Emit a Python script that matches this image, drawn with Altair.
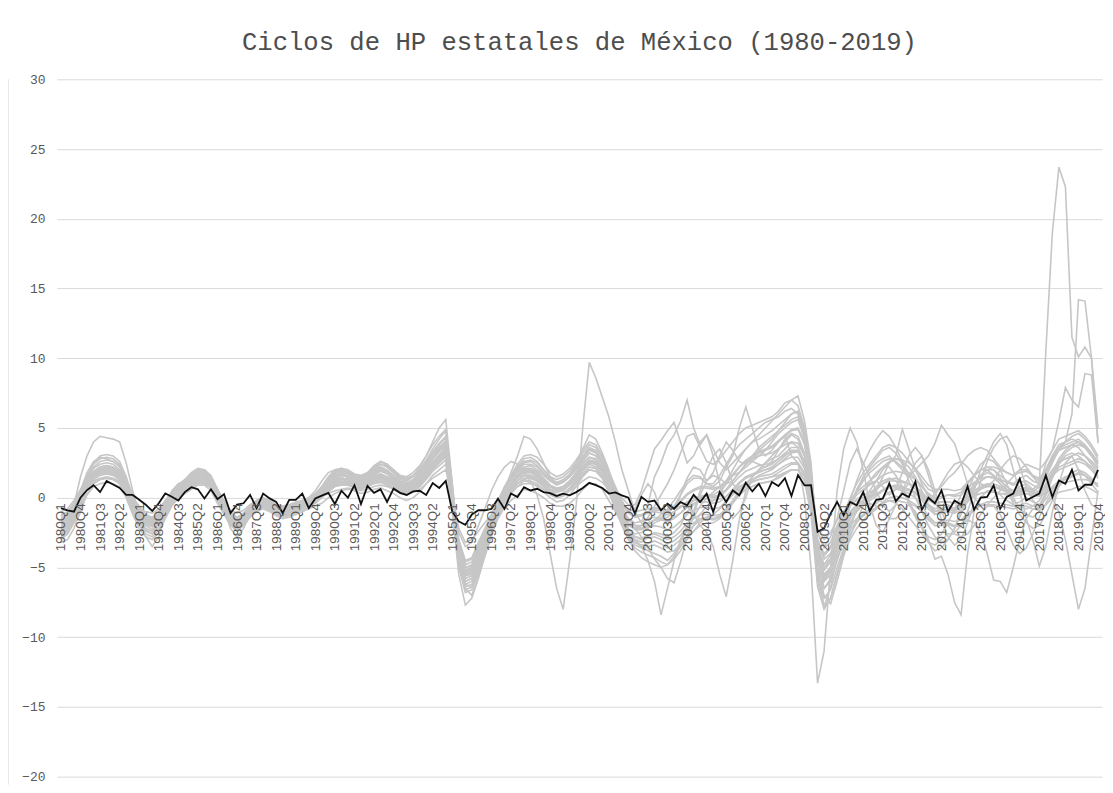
import altair as alt
import pandas as pd

quarters = [f"{y}Q{q}" for y in range(1980, 2020) for q in range(1, 5)]
tick_labels = quarters[::3]
y_ticks = [-20, -15, -10, -5, 0, 5, 10, 15, 20, 25, 30]

nacional = [
    -0.75, -0.9, -1.0, 0.0, 0.55, 0.9, 0.4, 1.2, 0.95, 0.7, 0.2, 0.2,
    -0.15, -0.5, -0.95, -0.4, 0.3, 0.07, -0.2, 0.4, 0.75, 0.6, -0.05, 0.6,
    -0.1, 0.25, -1.1, -0.5, -0.4, 0.2, -0.75, 0.3, -0.05, -0.3, -1.1, -0.15,
    -0.15, 0.3, -0.75, -0.05, 0.15, 0.35, -0.45, 0.5, 0.0, 0.9, -0.45, 0.85,
    0.35, 0.6, -0.3, 0.65, 0.35, 0.2, 0.45, 0.5, 0.2, 1.05, 0.7, 1.2,
    -1.0, -1.7, -1.95, -1.2, -0.9, -0.9, -0.8, -0.07, -0.8, 0.3, 0.05, 0.76,
    0.52, 0.64, 0.4, 0.33, 0.12, 0.29, 0.17, 0.4, 0.7, 1.07, 0.9, 0.7,
    0.3, 0.38, 0.17, 0.0, -1.14, 0.05, -0.3, -0.2, -0.9, -0.43, -0.79, -0.31,
    -0.55, 0.21, -0.31, 0.29, -1.02, 0.4, -0.31, 0.52, 0.17, 1.07, 0.45, 1.0,
    0.12, 1.12, 0.83, 1.4, 0.12, 1.62, 0.88, 0.9, -2.45, -2.2, -1.14, -0.3,
    -1.26, -0.3, -0.55, 0.4, -0.95, -0.15, -0.07, 1.02, -0.25, 0.29, 0.05, 1.15,
    -0.85, 0.0, -0.4, 0.52, -1.0, -0.2, -0.5, 0.8, -0.85, 0.0, 0.05, 0.88,
    -0.79, 0.05, 0.29, 1.36, -0.19, 0.05, 0.29, 1.6, 0.05, 1.24, 1.0, 2.0,
    0.52, 0.93, 0.93, 2.0,
]

est01 = [
    -1.8, -1.5, -0.8, 0.3, 1.2, 1.8, 2.1, 2.2, 2.1, 1.8, 1.0, -0.2, -1.0, -1.5, -1.6, -1.2,
    -0.4, 0.3, 0.7, 1.0, 1.4, 1.7, 1.7, 1.3, 0.5, -0.3, -1.1, -1.5, -1.2, -0.7, -0.3, -0.1,
    -0.3, -0.6, -0.8, -0.7, -0.5, -0.3, -0.1, 0.1, 0.4, 0.8, 1.1, 1.2, 1.1, 0.9, 0.8, 1.0,
    1.3, 1.5, 1.3, 1.0, 0.7, 0.6, 0.8, 1.2, 1.8, 2.5, 3.0, 3.4, 0.2, -3.2, -4.8, -4.6,
    -3.6, -2.6, -1.6, -0.6, 0.2, 0.9, 1.4, 1.8, 1.8, 1.6, 1.2, 0.8, 0.6, 0.7, 1.0, 1.5,
    2.1, 2.6, 2.5, 2.0, 1.2, 0.3, -0.5, -1.1, -1.4, -1.3, -1.1, -1.0, -1.1, -1.2, -1.0, -0.7,
    -0.3, 0.0, 0.1, 0.1, 0.0, 0.1, 0.5, 1.0, 1.5, 1.9, 2.1, 2.3, 2.4, 2.5, 2.8, 3.1,
    3.3, 3.3, 2.5, 0.6, -3.2, -4.2, -3.6, -2.3, -1.3, -0.6, -0.1, 0.2, 0.4, 0.6, 1.0, 1.2,
    1.2, 1.1, 1.0, 0.8, 0.4, -0.1, -0.4, -0.3, -0.3, -0.4, -0.3, 0.2, 0.5, 0.7, 0.8, 0.8,
    0.7, 0.6, 0.5, 0.6, 0.7, 0.6, 1.0, 10.5, 19.0, 23.7, 22.3, 11.5, 10.1, 10.8, 10.0, 3.9,
]
est02 = [
    -2.0, -1.9, -1.4, -0.4, 0.8, 1.6, 2.0, 2.1, 2.0, 1.7, 0.8, -0.4, -1.3, -1.8, -1.9, -1.4,
    -0.6, 0.1, 0.5, 0.8, 1.2, 1.5, 1.5, 1.1, 0.3, -0.5, -1.3, -1.7, -1.4, -0.9, -0.5, -0.3,
    -0.5, -0.8, -1.0, -0.9, -0.7, -0.5, -0.3, -0.1, 0.2, 0.6, 1.0, 1.1, 1.0, 0.8, 0.7, 0.9,
    1.1, 1.2, 1.0, 0.7, 0.4, 0.3, 0.5, 0.9, 1.4, 2.0, 2.5, 2.9, -0.2, -3.6, -5.2, -5.0,
    -4.0, -3.0, -2.0, -1.0, -0.2, 0.5, 1.0, 1.4, 1.4, 1.2, 0.8, 0.4, 0.2, 0.3, 0.6, 1.1,
    1.7, 2.2, 2.1, 1.6, 0.8, -0.1, -0.9, -1.5, -1.8, -1.7, -1.5, -1.4, -1.5, -1.6, -1.4, -1.1,
    -0.7, -0.4, -0.3, -0.3, -0.4, -0.3, 0.1, 0.6, 1.1, 1.5, 1.7, 1.9, 2.0, 2.1, 2.4, 2.7,
    2.9, 2.9, 2.1, 0.2, -3.8, -4.8, -4.1, -2.8, -1.8, -1.0, -0.5, -0.2, 0.0, 0.2, 0.6, 0.8,
    0.8, 0.7, 0.6, 0.4, 0.0, -0.5, -0.8, -0.7, -0.7, -0.8, -0.7, -0.2, 0.1, 0.3, 0.4, 0.4,
    0.3, 0.2, 0.1, 0.2, 0.3, 0.1, 0.5, 2.0, 3.0, 3.5, 4.0, 6.0, 14.2, 14.1, 10.0, 5.0,
]
est03 = [
    -2.8, -2.4, -1.5, 0.0, 1.5, 2.5, 3.0, 3.1, 3.0, 2.6, 1.5, 0.0, -1.2, -2.0, -2.3, -1.8,
    -0.8, 0.2, 0.9, 1.3, 1.7, 2.0, 1.9, 1.4, 0.4, -0.6, -1.6, -2.0, -1.6, -1.0, -0.5, -0.2,
    -0.4, -0.8, -1.0, -0.9, -0.6, -0.3, 0.0, 0.5, 1.2, 1.8, 2.0, 1.8, 1.4, 1.0, 1.0, 1.4,
    2.0, 2.2, 1.8, 1.2, 0.8, 0.6, 0.8, 1.2, 1.8, 2.4, 2.8, 3.0, 0.0, -2.5, -3.5, -3.2,
    -2.0, -0.8, 0.5, 1.5, 2.2, 2.6, 2.4, 1.8, 1.2, 0.2, -1.5, -4.0, -6.5, -8.0, -4.5, -0.5,
    5.0, 9.7, 8.6, 7.2, 5.8, 4.0, 2.0, 0.5, -1.0, -1.8, -0.5, 1.5, 2.5, 3.8, 4.5, 5.5,
    7.0, 5.0, 3.8, 4.5, 3.0, 1.0, -0.5, -1.5, -1.0, 0.0, 1.5, 2.0, 2.5, 2.8, 3.0, 3.5,
    4.0, 3.6, 2.2, 0.5, -2.5, -3.5, -2.8, -1.5, 0.5, 2.5, 3.5, 2.5, 1.5, 0.5, -0.5, -1.0,
    -0.5, 0.5, 1.5, 2.5, 3.0, 2.0, 0.5, -1.0, -2.0, -2.5, -2.0, -1.0, 0.5, 2.0, 3.0, 4.0,
    4.6, 3.8, 2.0, 0.5, -1.5, -3.0, -4.9, -3.5, -1.0, 1.0, 2.5, 3.0, 2.0, 0.5, -0.5, -0.8,
]
est04 = [
    -1.2, -1.0, -0.4, 0.5, 1.3, 1.9, 2.2, 2.3, 2.2, 1.9, 1.1, 0.0, -0.8, -1.3, -1.5, -1.1,
    -0.3, 0.4, 0.9, 1.2, 1.6, 1.9, 1.9, 1.5, 0.6, -0.4, -1.4, -1.8, -1.5, -0.9, -0.4, -0.2,
    -0.4, -0.7, -0.9, -0.8, -0.6, -0.4, -0.2, 0.1, 0.5, 1.0, 1.5, 1.7, 1.6, 1.3, 1.2, 1.4,
    1.8, 2.1, 1.9, 1.5, 1.1, 1.0, 1.2, 1.7, 2.4, 3.1, 3.6, 4.1, 0.5, -3.5, -5.2, -5.0,
    -3.8, -2.6, -1.4, -0.3, 0.6, 1.4, 2.0, 2.5, 2.6, 2.3, 1.8, 1.3, 1.0, 1.2, 1.6, 2.2,
    2.9, 3.5, 3.3, 2.6, 1.6, 0.5, -0.6, -1.5, -2.0, -2.2, -2.0, -1.6, -1.2, -0.8, -0.2, 0.5,
    1.2, 1.6, 1.5, 1.0, 0.8, 1.2, 2.2, 3.0, 5.0, 6.5, 5.0, 3.5, 3.0, 3.4, 4.0, 4.5,
    3.0, 2.5, 0.0, -5.0, -13.3, -11.0, -5.0, 0.5, 3.5, 5.0, 4.0, 2.0, -0.5, -2.0, -2.5, -1.5,
    -0.5, 0.5, 1.0, 0.8, 0.2, -0.5, -1.0, -0.8, -0.6, -0.8, -0.5, 0.2, 0.8, 1.2, 1.5, 1.4,
    1.0, 0.6, 0.3, 0.6, 0.8, 0.5, 0.2, 1.0, 1.8, 2.5, 2.8, 3.0, 3.2, 3.0, 2.6, 2.0,
]
est05 = [
    -2.4, -2.2, -1.4, -0.2, 1.0, 1.7, 2.0, 2.0, 1.9, 1.5, 0.6, -0.6, -1.6, -2.2, -2.4, -1.9,
    -1.0, -0.2, 0.3, 0.6, 1.0, 1.3, 1.3, 0.9, 0.0, -0.9, -1.8, -2.2, -1.8, -1.2, -0.7, -0.5,
    -0.7, -1.0, -1.2, -1.1, -0.9, -0.7, -0.5, -0.2, 0.2, 0.7, 1.2, 1.4, 1.3, 1.1, 1.0, 1.2,
    1.5, 1.7, 1.4, 1.0, 0.6, 0.5, 0.7, 1.1, 1.7, 2.3, 2.8, 3.2, -0.5, -4.5, -6.2, -6.0,
    -4.8, -3.6, -2.4, -1.2, -0.2, 0.5, 1.0, 1.3, 1.2, 1.0, 0.6, 0.2, 0.0, 0.2, 0.6, 1.2,
    1.9, 2.4, 2.2, 1.6, 0.6, -0.5, -1.5, -2.3, -2.6, -2.5, -2.2, -1.8, -1.6, -1.4, -1.0, -0.6,
    -0.6, -1.2, -2.0, -2.5, -3.5, -5.5, -7.1, -4.5, -1.6, 0.5, 1.5, 2.0, 2.2, 2.4, 2.8, 3.2,
    3.6, 3.6, 2.6, 0.2, -4.5, -5.8, -5.0, -3.5, -2.2, -1.4, -0.8, -0.4, -0.2, 0.1, 0.5, 0.8,
    0.9, 0.8, 0.6, 0.3, -0.2, -0.8, -1.2, -1.1, -1.0, -1.1, -0.9, -0.3, 0.2, 0.6, 0.8, 0.8,
    0.6, 0.4, 0.2, 0.4, 0.5, 0.4, 0.8, 2.5, 3.4, 5.5, 7.9, 7.0, 6.5, 8.9, 8.8, 4.0,
]
est06 = [
    -3.2, -3.0, -2.2, -1.0, 0.3, 1.0, 1.3, 1.4, 1.3, 1.0, 0.2, -1.0, -2.0, -2.6, -2.8, -2.3,
    -1.3, -0.5, 0.0, 0.4, 0.8, 1.1, 1.1, 0.7, -0.2, -1.0, -1.9, -2.3, -1.9, -1.3, -0.9, -0.7,
    -0.9, -1.2, -1.4, -1.3, -1.1, -0.9, -0.7, -0.4, 0.0, 0.4, 0.8, 1.0, 1.0, 0.8, 0.7, 0.9,
    1.2, 1.4, 1.2, 0.9, 0.5, 0.4, 0.6, 1.0, 1.6, 2.2, 2.7, 3.1, -1.0, -5.5, -7.7, -7.2,
    -5.8, -4.2, -2.8, -1.4, -0.4, 0.3, 0.8, 1.2, 1.1, 0.8, 0.4, 0.0, -0.3, -0.2, 0.2, 0.8,
    1.5, 2.0, 1.9, 1.4, 0.4, -0.7, -1.8, -2.7, -3.2, -3.4, -3.3, -3.1, -3.3, -3.6, -3.4, -3.0,
    -2.4, -2.0, -1.6, -1.5, -1.6, -1.4, -0.9, -0.3, 0.3, 0.8, 1.1, 1.3, 1.4, 1.5, 1.8, 2.1,
    2.4, 2.4, 1.6, -0.6, -5.2, -6.5, -5.8, -4.4, -3.2, -2.3, -1.7, -1.3, -1.0, -0.7, -0.3, 0.0,
    0.1, 0.0, -0.2, -0.5, -1.0, -1.6, -2.0, -2.0, -1.9, -2.1, -2.0, -1.6, -1.8, -2.5, -4.0, -5.9,
    -6.0, -6.8, -5.0, -3.0, -1.5, -0.8, -0.8, -0.5, 0.0, -1.0, -3.0, -5.5, -8.0, -6.5, -3.0, 0.5,
]
est07 = [
    -2.5, -2.0, -0.5, 1.5, 3.0, 4.0, 4.4, 4.3, 4.2, 4.0, 2.5, 0.5, -1.5, -2.8, -3.5, -2.8,
    -1.0, 0.5, 1.0, 1.2, 1.6, 2.0, 2.0, 1.6, 0.6, -0.8, -2.2, -2.8, -2.2, -1.2, -0.6, -0.3,
    -0.6, -1.0, -1.2, -1.0, -0.8, -0.5, -0.3, 0.0, 0.6, 1.2, 1.8, 2.0, 1.8, 1.5, 1.4, 1.6,
    2.0, 2.4, 2.2, 1.8, 1.3, 1.2, 1.5, 2.2, 3.0, 4.0, 5.0, 5.6, 1.0, -4.0, -6.5, -7.0,
    -5.5, -4.0, -2.5, -1.0, 0.5, 1.8, 3.0, 4.4, 4.2, 3.5, 2.5, 1.5, 1.0, 1.2, 1.6, 2.5,
    3.5, 4.5, 4.2, 3.2, 2.0, 0.5, -1.0, -2.5, -3.0, -3.2, -2.8, -2.5, -2.6, -2.8, -2.5, -2.0,
    -1.0, -0.5, 0.0, 0.2, 0.2, 0.5, 1.2, 2.0, 2.8, 3.5, 4.0, 4.2, 4.5, 4.8, 5.2, 5.6,
    6.0, 6.2, 5.0, 2.0, -4.0, -6.5, -6.0, -4.5, -3.0, -1.8, -1.0, -0.3, 0.5, 1.2, 2.0, 2.5,
    2.8, 2.6, 2.2, 1.5, 0.5, -0.5, -1.2, -1.0, -0.8, -1.0, -0.6, 0.2, 1.0, 1.5, 1.8, 1.6,
    1.2, 0.8, 0.5, 0.8, 1.0, 0.6, 0.4, 1.5, 2.5, 3.5, 3.8, 4.0, 4.2, 3.8, 3.2, 2.5,
]
est08 = [
    -1.5, -1.2, -0.6, 0.2, 0.8, 1.2, 1.4, 1.5, 1.4, 1.2, 0.6, -0.2, -0.8, -1.0, -1.1, -0.8,
    -0.2, 0.2, 0.4, 0.6, 0.9, 1.1, 1.1, 0.8, 0.2, -0.3, -0.9, -1.1, -0.9, -0.5, -0.2, -0.1,
    -0.3, -0.5, -0.6, -0.5, -0.4, -0.3, -0.2, -0.1, 0.1, 0.3, 0.5, 0.6, 0.7, 0.6, 0.5, 0.6,
    0.8, 0.9, 0.8, 0.6, 0.4, 0.3, 0.4, 0.6, 1.0, 1.4, 1.7, 2.0, 0.2, -2.2, -3.2, -3.0,
    -2.4, -1.8, -1.2, -0.5, 0.0, 0.4, 0.8, 1.0, 1.0, 0.9, 0.6, 0.4, 0.2, 0.3, 0.5, 0.8,
    1.2, 1.5, 1.4, 1.1, 0.6, 0.1, -0.4, -0.8, -1.0, -0.9, -0.8, -0.7, -0.8, -0.9, -0.8, -0.6,
    -0.3, -0.2, -0.1, -0.1, -0.2, -0.1, 0.1, 0.4, 0.8, 1.0, 1.2, 1.3, 1.4, 1.5, 1.6, 1.8,
    2.0, 2.0, 1.5, 0.3, -2.2, -3.0, -2.5, -1.6, -1.0, -0.5, -0.2, 0.0, 0.1, 0.3, 0.5, 0.7,
    0.7, 0.6, 0.5, 0.4, 0.1, -0.2, -0.4, -0.3, -0.3, -0.4, -0.3, 0.0, 0.2, 0.3, 0.4, 0.4,
    0.3, 0.3, 0.2, 0.3, 0.3, 0.2, 0.1, 0.4, 0.7, 1.0, 1.1, 1.2, 1.3, 1.3, 1.2, 1.0,
]
est09 = [
    -3.0, -2.6, -1.8, -0.8, 0.2, 0.8, 1.0, 1.1, 1.0, 0.8, 0.0, -1.2, -2.2, -2.8, -3.0, -2.5,
    -1.5, -0.6, 0.0, 0.3, 0.6, 0.9, 0.9, 0.5, -0.4, -1.2, -2.0, -2.4, -2.0, -1.4, -1.0, -0.8,
    -1.0, -1.3, -1.5, -1.4, -1.2, -1.0, -0.8, -0.6, -0.4, 0.0, 0.3, 0.5, 0.6, 0.5, 0.3, 0.4,
    0.6, 0.7, 0.5, 0.3, 0.0, -0.2, 0.0, 0.4, 1.0, 1.6, 2.0, 2.4, -1.0, -4.5, -6.0, -5.8,
    -4.5, -3.5, -2.5, -1.5, -0.7, -0.2, 0.2, 0.6, 0.5, 0.3, 0.0, -0.4, -0.6, -0.6, -0.4, 0.0,
    0.6, 1.0, 1.0, 0.6, -0.2, -1.0, -1.8, -2.5, -2.8, -2.9, -2.7, -2.6, -2.8, -3.0, -2.8, -2.4,
    -1.8, -1.5, -1.2, -1.2, -1.3, -1.2, -0.8, -0.3, 0.2, 0.6, 0.8, 1.0, 1.1, 1.2, 1.5, 1.8,
    2.0, 2.0, 1.2, -0.8, -5.0, -6.0, -5.2, -4.0, -2.8, -2.0, -1.5, -1.2, -1.0, -0.8, -0.4, -0.2,
    -0.2, -0.3, -0.4, -0.6, -1.0, -1.5, -1.8, -1.7, -1.6, -1.7, -1.6, -1.1, -0.8, -0.6, -0.5, -0.5,
    -0.6, -0.7, -0.8, -0.7, -0.6, -0.8, -0.9, -0.5, 0.0, 0.4, 0.5, 0.6, 0.8, 0.8, 0.6, 0.3,
]
est10 = [
    -2.2, -2.0, -1.0, 0.5, 1.8, 2.6, 2.9, 2.8, 2.6, 2.2, 1.2, 0.0, -1.0, -1.6, -1.8, -1.4,
    -0.5, 0.2, 0.8, 1.2, 1.6, 1.9, 1.8, 1.4, 0.6, -0.2, -1.0, -1.4, -1.1, -0.6, -0.2, 0.0,
    -0.2, -0.5, -0.6, -0.5, -0.3, -0.2, 0.0, 0.2, 0.6, 1.0, 1.3, 1.4, 1.3, 1.1, 1.0, 1.2,
    1.5, 1.7, 1.5, 1.2, 0.9, 0.8, 1.0, 1.4, 2.0, 2.8, 3.4, 3.8, 0.4, -3.0, -4.5, -4.3,
    -3.2, -2.2, -1.2, -0.2, 0.6, 1.2, 1.8, 2.2, 2.3, 2.0, 1.6, 1.2, 1.0, 1.1, 1.5, 2.0,
    2.6, 3.2, 3.0, 2.4, 1.5, 0.6, -0.3, -1.0, -1.3, -1.2, -1.0, -0.8, -0.8, -0.9, -0.6, -0.2,
    0.3, 0.6, 0.8, 0.8, 0.7, 0.8, 1.2, 1.7, 2.2, 2.6, 2.8, 3.0, 3.1, 3.2, 3.5, 3.8,
    4.0, 3.9, 3.0, 1.0, -3.0, -4.0, -3.5, -2.2, -1.2, -0.4, 0.2, 0.6, 0.9, 1.2, 1.6, 1.8,
    1.9, 1.8, 1.6, 1.3, 0.8, 0.3, 0.0, 0.1, 0.2, 0.1, 0.2, 0.7, 1.1, 1.4, 1.5, 1.5,
    1.3, 1.1, 0.9, 1.1, 1.2, 0.9, 0.7, 1.3, 2.0, 2.6, 2.8, 3.0, 3.2, 3.0, 2.6, 2.1,
]
est11 = [
    -1.0, -0.8, -0.2, 0.6, 1.4, 1.8, 2.0, 2.0, 1.8, 1.5, 0.8, 0.0, -0.6, -1.2, -1.4, -1.0,
    -0.2, 0.4, 0.8, 1.0, 1.3, 1.5, 1.4, 1.0, 0.3, -0.5, -1.6, -2.0, -1.7, -1.2, -0.7, -0.4,
    -0.6, -0.9, -1.0, -0.9, -0.7, -0.4, -0.2, 0.2, 0.8, 1.5, 2.0, 2.1, 1.8, 1.4, 1.2, 1.5,
    2.0, 2.6, 2.4, 2.0, 1.5, 1.3, 1.6, 2.0, 2.6, 3.2, 3.6, 4.0, 0.5, -3.8, -5.5, -5.3,
    -4.2, -3.0, -1.8, -0.6, 0.3, 1.0, 1.6, 2.0, 2.0, 1.8, 1.4, 0.9, 0.6, 0.8, 1.2, 1.8,
    2.4, 2.9, 2.7, 2.2, 1.2, 0.2, -0.8, -1.6, -2.0, -2.0, -1.8, -1.6, -1.6, -1.7, -1.5, -1.1,
    -0.6, -0.2, 0.1, 0.2, 0.1, 0.2, 0.6, 1.2, 1.8, 2.4, 2.8, 3.2, 3.4, 3.6, 4.0, 4.4,
    4.8, 4.9, 3.8, 1.2, -3.8, -5.2, -4.6, -3.2, -2.0, -1.2, -0.6, -0.2, 0.2, 0.6, 1.0, 1.3,
    1.4, 1.2, 1.0, 0.6, 0.0, -0.6, -1.0, -0.9, -0.8, -0.9, -0.7, -0.2, 0.3, 0.7, 0.9, 0.8,
    0.6, 0.4, 0.2, 0.4, 0.5, 0.3, 0.1, 0.8, 1.5, 2.2, 2.4, 2.6, 2.8, 2.6, 2.2, 1.6,
]
est12 = [
    -1.6, -1.4, -0.8, 0.2, 1.1, 1.6, 1.9, 2.0, 1.9, 1.6, 0.9, -0.2, -1.0, -1.5, -1.7, -1.3,
    -0.5, 0.1, 0.5, 0.8, 1.1, 1.4, 1.4, 1.1, 0.3, -0.5, -1.2, -1.6, -1.3, -0.8, -0.4, -0.2,
    -0.4, -0.7, -0.9, -0.8, -0.6, -0.4, -0.2, 0.0, 0.3, 0.7, 1.0, 1.1, 1.0, 0.8, 0.7, 0.9,
    1.2, 1.3, 1.1, 0.8, 0.5, 0.4, 0.6, 1.0, 1.5, 2.1, 2.6, 3.0, 0.0, -3.2, -4.6, -4.4,
    -3.4, -2.4, -1.4, -0.4, 0.4, 1.0, 1.5, 1.9, 1.9, 1.7, 1.3, 0.9, 0.7, 0.8, 1.1, 1.6,
    2.2, 2.7, 2.6, 2.1, 1.3, 0.0, -1.5, -2.5, -3.0, -3.5, -4.5, -6.0, -8.4, -6.5, -4.5, -3.0,
    -2.0, -1.0, 0.5, 2.0, 3.0, 3.5, 2.5, 1.0, 0.5, 1.0, 1.5, 2.0, 2.5, 3.0, 3.5, 4.0,
    4.5, 4.2, 3.0, 0.5, -4.0, -5.5, -5.0, -3.5, -2.5, -1.5, -0.8, -0.5, 0.0, 0.5, 1.5, 2.5,
    3.0, 4.9, 3.5, 2.0, 1.0, 0.0, -0.5, -0.5, -0.5, -0.8, -0.5, 0.0, 0.5, 0.8, 1.0, 1.0,
    0.8, 0.5, 0.3, 0.5, 0.6, 0.4, 0.2, 1.0, 1.6, 2.0, 2.2, 2.4, 2.6, 2.4, 2.0, 1.5,
]
est13 = [
    -2.6, -2.3, -1.6, -0.4, 0.9, 1.5, 1.8, 1.9, 1.8, 1.5, 0.6, -0.5, -1.4, -1.9, -2.1, -1.7,
    -0.9, -0.2, 0.2, 0.5, 0.9, 1.2, 1.2, 0.8, 0.0, -0.8, -1.7, -2.1, -1.7, -1.1, -0.6, -0.4,
    -0.6, -0.9, -1.1, -1.0, -0.8, -0.6, -0.4, -0.1, 0.4, 0.9, 1.4, 1.6, 1.5, 1.2, 1.1, 1.3,
    1.7, 2.0, 1.8, 1.4, 1.0, 0.9, 1.1, 1.5, 2.1, 2.8, 3.3, 3.7, 0.3, -3.8, -5.6, -5.4,
    -4.3, -3.1, -1.9, -0.7, 0.3, 1.0, 1.6, 2.0, 2.0, 1.8, 1.3, 0.8, 0.5, 0.7, 1.1, 1.7,
    2.4, 2.9, 2.8, 2.2, 1.2, 0.5, 0.0, -0.5, -0.5, 0.5, 2.0, 3.5, 4.1, 4.8, 5.4, 4.0,
    2.5, 3.0, 4.0, 4.5, 3.5, 2.5, 2.0, 2.5, 3.0, 3.5, 4.0, 4.5, 5.0, 5.5, 6.0, 6.5,
    7.0, 7.3, 5.5, 2.5, -3.5, -5.0, -4.5, -3.0, -1.5, -0.5, 0.5, 1.5, 2.0, 2.5, 2.8, 3.0,
    2.5, 2.0, 1.5, 2.0, 2.5, 3.0, 3.9, 5.2, 4.5, 3.9, 2.5, 1.0, 0.0, -0.5, -0.5, 0.0,
    0.5, 1.0, 1.5, 2.0, 2.0, 1.5, 1.0, 2.0, 3.0, 3.8, 4.0, 4.2, 4.0, 3.6, 3.0, 2.6,
]
est14 = [
    -1.9, -1.7, -1.1, 0.0, 1.0, 1.6, 1.9, 2.0, 1.9, 1.6, 0.8, -0.3, -1.1, -1.6, -1.8, -1.4,
    -0.6, 0.0, 0.4, 0.7, 1.0, 1.3, 1.3, 1.0, 0.2, -0.6, -1.4, -1.8, -1.5, -1.0, -0.6, -0.4,
    -0.6, -0.9, -1.0, -0.9, -0.7, -0.5, -0.3, -0.1, 0.2, 0.5, 0.8, 0.9, 0.9, 0.7, 0.6, 0.8,
    1.0, 1.1, 0.9, 0.6, 0.3, 0.2, 0.4, 0.8, 1.3, 1.9, 2.3, 2.7, -0.3, -3.9, -5.6, -5.5,
    -4.4, -3.2, -2.0, -0.9, -0.1, 0.5, 1.0, 1.4, 1.4, 1.2, 0.8, 0.4, 0.2, 0.3, 0.6, 1.0,
    1.6, 2.0, 1.9, 1.4, 0.6, -0.3, -1.2, -1.9, -2.3, -2.3, -2.1, -2.0, -2.1, -2.3, -2.1, -1.7,
    -1.2, -0.9, -0.7, -0.7, -0.8, -0.7, -0.3, 0.2, 0.7, 1.1, 1.3, 1.5, 1.6, 1.7, 2.0, 2.3,
    2.5, 2.5, 1.8, -0.2, -4.5, -6.0, -5.5, -4.0, -2.8, -1.8, -1.0, -0.5, -0.4, -0.6, -1.0, -1.5,
    -1.5, -1.0, -0.5, -1.0, -2.0, -3.0, -4.4, -4.2, -5.5, -7.5, -8.4, -4.0, -1.0, 0.0, 0.5, 0.5,
    0.2, -0.2, -0.5, -0.3, 0.0, -0.3, -0.5, 0.2, 0.8, 1.2, 1.5, 1.6, 1.8, 1.6, 1.2, 0.8,
]
est15 = [
    -2.1, -1.9, -1.2, 0.1, 1.4, 2.2, 2.6, 2.7, 2.6, 2.3, 1.4, 0.2, -0.8, -1.4, -1.6, -1.2,
    -0.3, 0.4, 0.9, 1.3, 1.8, 2.1, 2.0, 1.5, 0.6, -0.3, -1.2, -1.6, -1.3, -0.8, -0.3, -0.1,
    -0.3, -0.6, -0.7, -0.6, -0.4, -0.2, 0.0, 0.3, 0.8, 1.4, 1.9, 2.1, 2.0, 1.7, 1.6, 1.8,
    2.3, 2.6, 2.3, 1.9, 1.5, 1.4, 1.6, 2.0, 2.7, 3.5, 4.2, 4.8, 0.8, -3.2, -5.0, -4.9,
    -3.9, -2.8, -1.6, -0.4, 0.6, 1.4, 2.1, 2.6, 2.7, 2.5, 2.0, 1.5, 1.3, 1.5, 1.9, 2.5,
    3.2, 3.8, 3.6, 2.9, 1.9, 0.8, -0.2, -1.0, -1.4, -1.3, -1.1, -0.9, -0.9, -1.0, -0.7, -0.3,
    0.2, 0.5, 0.7, 0.7, 0.6, 0.7, 1.1, 1.6, 2.2, 2.7, 3.0, 3.3, 3.5, 3.7, 4.1, 4.5,
    4.9, 5.0, 4.0, 1.5, -2.5, -3.6, -3.2, -2.0, -1.0, -0.2, 0.4, 0.8, 1.2, 1.6, 2.2, 2.6,
    2.8, 2.7, 2.5, 2.1, 1.5, 0.9, 0.6, 0.6, 0.6, 0.5, 0.6, 1.1, 1.6, 2.0, 2.2, 2.2,
    2.0, 1.8, 1.6, 1.8, 1.9, 1.6, 1.4, 2.0, 2.8, 3.4, 3.6, 3.8, 4.0, 3.7, 3.2, 2.6,
]
est16 = [
    -1.4, -1.3, -0.9, -0.2, 0.6, 1.1, 1.3, 1.4, 1.3, 1.1, 0.4, -0.5, -1.2, -1.6, -1.7, -1.4,
    -0.8, -0.3, 0.1, 0.4, 0.7, 1.0, 1.0, 0.7, 0.0, -0.7, -1.4, -1.7, -1.5, -1.1, -0.7, -0.5,
    -0.7, -1.0, -1.1, -1.0, -0.8, -0.6, -0.4, -0.2, 0.1, 0.5, 0.9, 1.0, 1.0, 0.9, 0.8, 1.0,
    1.3, 1.5, 1.3, 1.0, 0.7, 0.6, 0.8, 1.2, 1.8, 2.4, 2.9, 3.3, -0.8, -5.0, -6.8, -6.6,
    -5.2, -3.8, -2.4, -1.1, -0.2, 0.6, 1.2, 1.6, 1.6, 1.3, 0.9, 0.4, 0.1, 0.2, 0.6, 1.2,
    2.0, 2.6, 2.5, 1.9, 0.9, -0.2, -1.3, -2.2, -2.8, -3.0, -2.9, -2.8, -3.0, -3.3, -3.1, -2.7,
    -2.1, -1.8, -1.5, -1.4, -1.5, -1.3, -0.8, -0.2, 0.5, 1.0, 1.3, 1.6, 1.8, 2.0, 2.4, 2.8,
    3.2, 3.3, 2.4, 0.0, -5.5, -7.2, -6.6, -5.0, -3.6, -2.6, -1.8, -1.2, -0.8, -0.4, 0.0, 0.4,
    0.6, 0.5, 0.3, 0.0, -0.6, -1.3, -1.8, -1.8, -1.8, -2.0, -1.9, -1.4, -0.9, -0.5, -0.3, -0.3,
    -0.4, -0.5, -0.6, -0.5, -0.4, -0.6, -0.7, -0.1, 0.6, 1.1, 1.3, 1.5, 1.7, 1.6, 1.3, 0.8,
]
est17 = [
    -2.3, -2.1, -1.3, -0.1, 1.1, 1.8, 2.2, 2.3, 2.2, 1.9, 1.0, -0.2, -1.2, -1.8, -2.0, -1.6,
    -0.7, 0.0, 0.5, 0.8, 1.2, 1.5, 1.5, 1.1, 0.2, -0.7, -1.5, -1.9, -1.6, -1.1, -0.6, -0.4,
    -0.6, -0.9, -1.1, -1.0, -0.8, -0.6, -0.3, 0.0, 0.5, 1.1, 1.6, 1.8, 1.7, 1.4, 1.3, 1.5,
    1.9, 2.2, 2.0, 1.6, 1.2, 1.1, 1.3, 1.8, 2.4, 3.2, 3.8, 4.3, 0.3, -4.2, -6.0, -5.8,
    -4.6, -3.3, -2.0, -0.8, 0.2, 1.0, 1.6, 2.1, 2.1, 1.9, 1.4, 0.9, 0.6, 0.8, 1.2, 1.8,
    2.6, 3.2, 3.0, 2.4, 1.2, -0.3, -1.8, -3.0, -3.8, -4.3, -4.6, -4.8, -5.0, -4.8, -4.2, -3.5,
    -2.8, -2.0, -1.2, -0.6, -0.2, 0.3, 1.0, 1.6, 2.2, 2.6, 2.6, 2.4, 2.2, 2.6, 3.4, 4.2,
    4.6, 4.4, 3.2, 0.8, -4.2, -5.8, -5.2, -3.6, -2.0, -0.6, 0.6, 1.4, 2.2, 2.8, 3.4, 3.6,
    3.2, 2.4, 1.2, 0.0, -1.0, -2.0, -2.8, -3.2, -3.0, -2.2, -1.0, 0.4, 1.6, 2.4, 2.8, 2.6,
    2.0, 1.0, 0.0, -0.8, -1.2, -1.4, -1.0, 0.2, 1.4, 2.4, 3.0, 3.2, 3.0, 2.6, 2.0, 1.4,
]
est18 = [
    -1.7, -1.6, -1.0, 0.0, 1.0, 1.5, 1.7, 1.8, 1.7, 1.4, 0.7, -0.3, -1.0, -1.4, -1.5, -1.2,
    -0.5, 0.1, 0.5, 0.8, 1.1, 1.3, 1.3, 0.9, 0.2, -0.6, -1.3, -1.7, -1.4, -0.9, -0.5, -0.3,
    -0.5, -0.8, -0.9, -0.8, -0.6, -0.4, -0.2, 0.0, 0.3, 0.8, 1.2, 1.4, 1.3, 1.1, 1.0, 1.2,
    1.6, 1.9, 1.7, 1.3, 0.9, 0.8, 1.0, 1.5, 2.1, 2.9, 3.5, 4.0, 0.2, -4.0, -5.8, -5.6,
    -4.5, -3.4, -2.2, -1.0, 0.0, 0.8, 1.4, 1.8, 1.8, 1.5, 1.1, 0.6, 0.4, 0.6, 1.0, 1.5,
    2.2, 2.7, 2.5, 1.9, 0.8, -0.4, -1.6, -2.6, -3.2, -3.5, -3.8, -4.0, -4.2, -4.5, -4.0, -3.2,
    -2.2, -1.4, -0.6, 0.0, 0.4, 0.8, 1.2, 1.6, 1.8, 2.2, 2.6, 3.0, 3.4, 4.0, 4.6, 5.0,
    5.4, 5.6, 4.2, 1.2, -5.0, -7.0, -7.6, -6.0, -4.2, -2.8, -1.6, -0.6, 0.2, 0.8, 1.2, 1.4,
    1.2, 0.6, -0.4, -1.4, -2.2, -2.8, -3.0, -2.6, -1.8, -0.8, 0.2, 1.0, 1.6, 2.0, 2.0, 1.6,
    1.0, 0.4, -0.2, -0.6, -0.8, -0.6, -0.2, 0.6, 1.6, 2.6, 3.2, 3.6, 3.8, 3.6, 3.0, 2.2,
]
est19 = [
    -2.0, -1.8, -1.0, 0.2, 1.4, 2.1, 2.4, 2.5, 2.4, 2.0, 1.1, -0.1, -1.1, -1.7, -1.9, -1.5,
    -0.6, 0.1, 0.6, 0.9, 1.3, 1.6, 1.6, 1.2, 0.3, -0.6, -1.5, -1.9, -1.6, -1.0, -0.5, -0.3,
    -0.5, -0.8, -1.0, -0.9, -0.7, -0.5, -0.2, 0.1, 0.6, 1.2, 1.7, 1.9, 1.8, 1.5, 1.4, 1.7,
    2.2, 2.6, 2.4, 2.0, 1.6, 1.5, 1.8, 2.3, 3.0, 3.8, 4.4, 4.9, 1.0, -3.5, -5.4, -5.2,
    -4.0, -2.7, -1.4, -0.2, 0.8, 1.6, 2.4, 3.0, 3.1, 2.9, 2.4, 1.8, 1.5, 1.7, 2.1, 2.7,
    3.4, 4.0, 3.8, 3.0, 1.8, 0.4, -0.8, -1.8, -2.2, -2.0, -1.4, -0.6, 0.2, 1.0, 2.0, 3.2,
    4.4, 4.6, 3.6, 2.6, 2.4, 2.8, 3.4, 4.0, 4.6, 5.0, 5.2, 5.4, 5.6, 5.8, 6.2, 6.8,
    7.0, 6.6, 5.0, 2.0, -3.0, -4.4, -4.0, -2.6, -1.2, 0.0, 1.0, 1.8, 2.4, 3.0, 3.6, 3.8,
    3.6, 3.2, 2.6, 2.0, 1.2, 0.6, 0.4, 0.8, 1.4, 1.8, 2.4, 3.0, 3.4, 3.6, 3.4, 2.8,
    2.2, 1.8, 1.6, 2.0, 2.4, 2.2, 2.0, 2.6, 3.4, 4.2, 4.4, 4.6, 4.8, 4.4, 3.8, 3.0,
]
est20 = [
    -2.6, -2.4, -1.7, -0.6, 0.6, 1.3, 1.6, 1.7, 1.6, 1.3, 0.4, -0.8, -1.8, -2.4, -2.6, -2.1,
    -1.2, -0.4, 0.1, 0.4, 0.8, 1.1, 1.1, 0.7, -0.2, -1.0, -1.8, -2.2, -1.8, -1.2, -0.8, -0.6,
    -0.8, -1.1, -1.3, -1.2, -1.0, -0.8, -0.6, -0.3, 0.1, 0.5, 0.9, 1.1, 1.1, 0.9, 0.8, 1.0,
    1.3, 1.5, 1.3, 1.0, 0.6, 0.5, 0.7, 1.1, 1.7, 2.4, 2.9, 3.4, -0.5, -4.8, -6.6, -6.4,
    -5.0, -3.6, -2.2, -0.9, 0.1, 0.9, 1.5, 1.9, 1.9, 1.6, 1.1, 0.6, 0.2, 0.3, 0.7, 1.3,
    2.0, 2.5, 2.4, 1.8, 0.6, -0.8, -2.0, -3.0, -3.6, -3.9, -4.1, -4.3, -4.6, -4.8, -4.4, -3.8,
    -3.0, -2.4, -1.8, -1.4, -1.2, -0.8, -0.2, 0.4, 1.0, 1.4, 1.6, 1.8, 2.0, 2.2, 2.6, 3.0,
    3.4, 3.4, 2.4, -0.2, -6.0, -7.8, -7.2, -5.6, -3.8, -2.2, -0.8, 0.4, 1.2, 1.8, 2.2, 2.2,
    1.6, 0.8, -0.2, -1.2, -2.2, -3.2, -3.8, -3.6, -3.0, -2.2, -1.2, -0.2, 0.8, 1.6, 2.0, 2.0,
    1.4, 0.6, -0.4, -1.2, -1.8, -2.2, -2.0, -1.2, -0.2, 0.8, 1.4, 1.8, 2.0, 1.8, 1.4, 0.8,
]
est21 = [
    -2.4, -2.0, -1.1, 0.3, 1.6, 2.4, 2.8, 2.9, 2.8, 2.4, 1.4, 0.1, -1.0, -1.7, -2.0, -1.6,
    -0.7, 0.1, 0.7, 1.1, 1.5, 1.8, 1.8, 1.3, 0.4, -0.5, -1.4, -1.8, -1.5, -0.9, -0.4, -0.2,
    -0.4, -0.7, -0.9, -0.8, -0.6, -0.4, -0.1, 0.2, 0.7, 1.3, 1.8, 2.0, 1.9, 1.6, 1.5, 1.7,
    2.1, 2.4, 2.2, 1.8, 1.4, 1.3, 1.5, 1.9, 2.5, 3.3, 3.9, 4.4, 0.6, -3.6, -5.3, -5.1,
    -4.0, -2.8, -1.5, -0.3, 0.7, 1.5, 2.2, 2.8, 2.9, 2.6, 2.0, 1.4, 1.1, 1.3, 1.7, 2.3,
    3.0, 3.6, 3.4, 2.7, 1.6, 0.6, -0.4, -1.0, -0.8, 0.2, 1.0, 0.4, -1.0, -2.0, -1.2, 0.2,
    1.4, 2.2, 2.0, 1.2, 1.8, 3.0, 4.0, 3.4, 2.6, 2.4, 2.8, 3.4, 3.8, 4.2, 4.8, 5.2,
    5.6, 5.8, 4.6, 1.6, -3.4, -4.8, -4.4, -3.0, -1.6, -0.2, 1.2, 2.4, 3.4, 4.2, 4.8, 4.4,
    3.6, 2.6, 1.6, 0.8, 0.2, -0.2, 0.2, 1.0, 1.8, 2.4, 2.6, 2.2, 1.6, 1.0, 0.8, 1.2,
    2.0, 2.6, 3.0, 2.8, 2.2, 1.6, 1.2, 1.8, 2.8, 3.6, 4.0, 4.4, 4.6, 4.2, 3.6, 2.8,
]
est22 = [
    -1.8, -1.6, -1.0, 0.1, 1.1, 1.7, 2.0, 2.1, 2.0, 1.7, 0.9, -0.2, -1.1, -1.6, -1.8, -1.4,
    -0.6, 0.1, 0.5, 0.8, 1.2, 1.5, 1.5, 1.1, 0.3, -0.5, -1.3, -1.7, -1.4, -0.9, -0.5, -0.3,
    -0.5, -0.8, -0.9, -0.8, -0.6, -0.4, -0.2, 0.1, 0.4, 0.9, 1.3, 1.4, 1.3, 1.1, 1.0, 1.2,
    1.5, 1.7, 1.5, 1.2, 0.8, 0.7, 0.9, 1.3, 1.9, 2.6, 3.1, 3.6, 0.0, -4.2, -6.2, -6.4,
    -5.4, -4.0, -2.6, -1.2, -0.2, 0.6, 1.2, 1.6, 1.6, 1.4, 1.0, 0.6, 0.4, 0.5, 0.9, 1.4,
    2.0, 2.5, 2.4, 1.8, 0.8, -0.4, -1.4, -2.0, -2.2, -2.8, -3.6, -4.4, -5.0, -5.8, -6.1, -4.6,
    -2.8, -1.2, 0.2, 1.2, 1.6, 1.4, 1.0, 1.2, 1.8, 2.4, 3.0, 3.6, 4.0, 4.4, 4.8, 5.4,
    6.0, 6.2, 4.8, 1.4, -5.5, -7.8, -6.4, -4.2, -2.4, -1.2, -0.4, 0.4, 1.0, 1.2, 0.8, 0.2,
    0.6, 1.8, 3.0, 3.6, 3.0, 1.6, 0.0, -1.6, -2.8, -3.4, -3.0, -1.8, -0.4, 1.2, 2.6, 3.6,
    4.2, 4.4, 3.6, 2.2, 0.8, -0.2, -0.6, 0.4, 1.8, 2.8, 3.4, 3.8, 3.6, 3.0, 2.4, 1.8,
]
est23 = [
    -2.9, -2.6, -1.7, -0.5, 0.7, 1.4, 1.7, 1.8, 1.7, 1.4, 0.5, -0.7, -1.7, -2.3, -2.6, -2.1,
    -1.2, -0.4, 0.1, 0.5, 0.9, 1.2, 1.2, 0.8, -0.1, -0.9, -1.7, -2.1, -1.7, -1.2, -0.8, -0.6,
    -0.8, -1.1, -1.3, -1.2, -1.0, -0.8, -0.5, -0.2, 0.2, 0.7, 1.1, 1.3, 1.2, 1.0, 0.9, 1.1,
    1.4, 1.6, 1.4, 1.1, 0.7, 0.6, 0.8, 1.2, 1.8, 2.5, 3.0, 3.5, -0.4, -4.6, -6.4, -6.2,
    -4.9, -3.6, -2.3, -1.0, 0.0, 0.7, 1.2, 1.6, 1.5, 1.2, 0.8, 0.3, 0.0, 0.1, 0.5, 1.0,
    1.7, 2.2, 2.1, 1.5, 0.4, -0.8, -1.9, -2.8, -3.4, -3.6, -3.5, -3.4, -3.6, -3.9, -3.8, -3.4,
    -2.8, -2.4, -2.0, -1.8, -1.8, -1.5, -1.0, -0.4, 0.2, 0.6, 0.8, 1.0, 1.1, 1.2, 1.4, 1.7,
    2.0, 2.0, 1.2, -1.2, -6.4, -8.0, -7.2, -5.4, -4.0, -3.0, -2.2, -1.6, -1.2, -0.8, -0.4, -0.2,
    -0.4, -0.8, -1.4, -2.0, -2.6, -3.2, -3.4, -3.0, -2.6, -2.6, -2.8, -2.6, -2.0, -1.2, -0.6, -0.6,
    -1.2, -2.2, -3.4, -4.0, -3.6, -2.6, -1.4, -0.4, 0.4, 1.0, 1.4, 1.8, 2.0, 1.6, 1.0, 0.4,
]
est24 = [
    -1.3, -1.1, -0.5, 0.4, 1.2, 1.7, 2.0, 2.1, 2.0, 1.7, 1.0, -0.1, -0.9, -1.4, -1.5, -1.2,
    -0.4, 0.3, 0.7, 1.0, 1.4, 1.7, 1.7, 1.3, 0.5, -0.3, -1.2, -1.6, -1.3, -0.8, -0.4, -0.2,
    -0.4, -0.7, -0.8, -0.7, -0.5, -0.3, -0.1, 0.2, 0.5, 1.0, 1.4, 1.6, 1.5, 1.2, 1.1, 1.3,
    1.7, 2.0, 1.8, 1.4, 1.0, 0.9, 1.1, 1.6, 2.2, 2.9, 3.5, 4.0, 0.4, -3.4, -5.0, -4.8,
    -3.7, -2.6, -1.4, -0.3, 0.6, 1.3, 1.9, 2.4, 2.4, 2.2, 1.7, 1.2, 0.9, 1.1, 1.5, 2.1,
    2.8, 3.4, 3.2, 2.5, 1.4, 0.2, -0.9, -1.8, -2.2, -2.2, -1.9, -1.6, -1.4, -1.2, -0.6, 0.2,
    1.0, 1.4, 1.4, 1.0, 1.0, 1.6, 2.4, 3.2, 3.8, 4.2, 4.6, 5.0, 5.4, 5.6, 5.8, 6.2,
    6.4, 6.0, 4.4, 1.2, -4.0, -5.6, -5.0, -3.4, -1.8, -0.6, 0.4, 1.2, 1.8, 2.2, 2.6, 2.8,
    2.6, 2.2, 1.8, 1.4, 0.8, 0.2, -0.2, 0.0, 0.2, 0.2, 0.4, 1.0, 1.6, 2.0, 2.2, 2.0,
    1.6, 1.2, 1.0, 1.4, 1.6, 1.2, 1.0, 1.8, 2.6, 3.4, 3.6, 3.8, 4.0, 3.6, 3.0, 2.4,
]

estados = [est01, est02, est03, est04, est05, est06, est07, est08,
           est09, est10, est11, est12, est13, est14, est15, est16,
           est17, est18, est19, est20, est21, est22, est23, est24]

for k, s in enumerate(estados):
    assert len(s) == 160, f"est{k+1:02d} has {len(s)} values"
assert len(nacional) == 160, f"nacional has {len(nacional)}"

rows = []
for k, s in enumerate(estados):
    for q, v in zip(quarters, s):
        rows.append({"trimestre": q, "serie": f"Estado {k+1:02d}", "valor": v})
df_est = pd.DataFrame(rows)
df_nac = pd.DataFrame({"trimestre": quarters, "serie": "Nacional", "valor": nacional})

H = 698
W = 1046

x_enc = alt.X(
    "trimestre:O",
    sort=quarters,
    scale=alt.Scale(type="point", padding=0.61),
    axis=alt.Axis(
        values=tick_labels,
        labelAngle=270,
        labelFont="Liberation Sans",
        labelFontSize=13.5,
        labelColor="#595959",
        labelPadding=5,
        ticks=False,
        domain=False,
        grid=False,
        title=None,
        offset=-(H * 20 / 50),
        labelOverlap=False,
        zindex=1,
    ),
)
y_enc = alt.Y(
    "valor:Q",
    scale=alt.Scale(domain=[-20, 30], nice=False, zero=False),
    axis=alt.Axis(
        values=y_ticks,
        labelFont="Liberation Mono",
        labelFontSize=13,
        labelColor="#595959",
        labelPadding=12,
        ticks=False,
        domain=False,
        grid=True,
        gridColor="#d9d9d9",
        gridWidth=1,
        title=None,
    ),
)

gray = alt.Chart(df_est).mark_line(color="#c6c6c6", strokeWidth=1.6).encode(
    x=x_enc, y=y_enc, detail="serie:N"
)
black = alt.Chart(df_nac).mark_line(color="#111111", strokeWidth=1.8).encode(
    x=x_enc, y=y_enc
)
border = alt.Chart(pd.DataFrame({"a": [0]})).mark_rule(color="#d0d0d0", strokeWidth=1).encode(
    x=alt.value(-49), y=alt.value(0), y2=alt.value(H + 8)
)

chart = alt.layer(gray, black, border).properties(
    width=W,
    height=H,
    title=alt.TitleParams(
        "Ciclos de HP estatales de México (1980-2019)",
        font="Liberation Mono",
        fontSize=25.6,
        fontWeight="normal",
        color="#4d4d4d",
        anchor="middle",
        frame="group",
        offset=18,
    ),
    padding={"left": 49, "top": 71, "right": 3, "bottom": 8},
    autosize="none",
).configure_view(stroke=None)

chart.save("out.html", embed_options={"renderer": "svg", "actions": False})
